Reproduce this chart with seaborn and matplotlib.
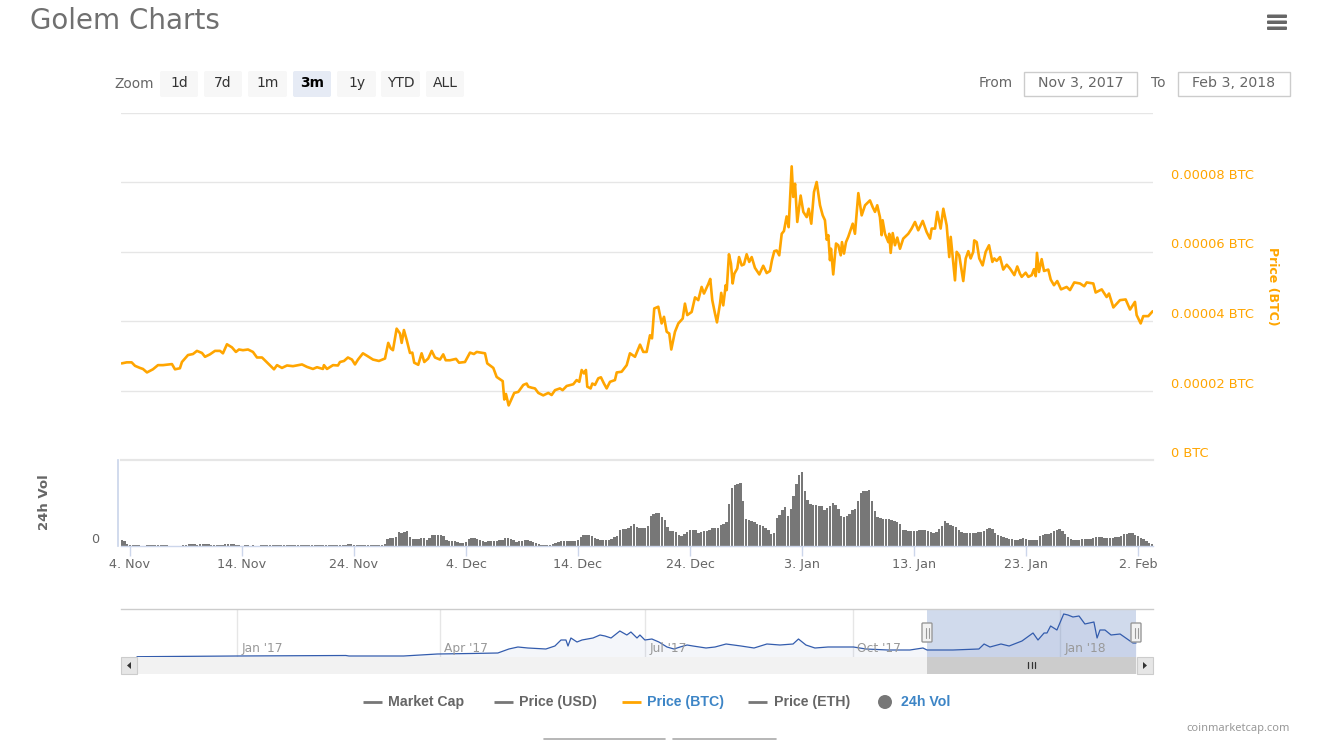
import numpy as np
import matplotlib.pyplot as plt
from matplotlib.patches import Rectangle, FancyBboxPatch, Circle, Polygon
import seaborn as sns

sns.set_theme(style="white")
plt.rcParams["font.family"] = ["DejaVu Sans"]

# price in 1e-5 BTC, x is days since 4 Nov 2017
price_day = [
    -0.74, -0.29, 0.15, 0.45, 0.89, 1.16, 1.52, 2.05, 2.5, 2.95, 3.75, 4.02, 4.46, 4.64, 5.18, 5.63, 5.98, 6.43, 6.7, 7.14,
    7.59, 8.04, 8.3, 8.66, 9.11, 9.46, 9.73, 10.09, 10.54, 10.98, 11.34, 11.79, 12.32, 12.86, 13.13, 13.57, 14.02, 14.55, 15.36, 15.8,
    16.34, 16.7, 17.23, 17.32, 17.59, 18.13, 18.57, 18.75, 19.11, 19.46, 19.82, 20.09, 20.36, 20.8, 21.16, 21.7, 22.23, 22.77, 23.06, 23.28,
    23.48, 23.81, 24.11, 24.26, 24.46, 24.71, 25.0, 25.21, 25.38, 25.74, 26.04, 26.28, 26.63, 26.94, 27.23, 27.68, 27.97, 28.19, 28.57, 29.11,
    29.38, 29.91, 30.36, 30.71, 30.96, 31.7, 31.9, 32.44, 32.74, 33.28, 33.42, 33.57, 33.81, 34.02, 34.31, 34.67, 35.12, 35.42, 35.56, 35.87,
    36.16, 36.46, 36.9, 37.35, 37.65, 37.95, 38.39, 38.63, 38.99, 39.58, 39.88, 40.12, 40.33, 40.54, 40.71, 40.83, 41.13, 41.28, 41.52, 41.81,
    42.05, 42.32, 42.56, 42.86, 43.3, 43.46, 43.9, 44.35, 44.64, 45.09, 45.54, 45.83, 46.13, 46.43, 46.61, 46.81, 47.17, 47.47, 47.68, 47.92,
    48.15, 48.33, 48.66, 48.96, 49.35, 49.55, 49.76, 50.15, 50.45, 50.74, 51.04, 51.25, 51.63, 51.81, 51.99, 52.23, 52.41, 52.68, 52.79, 52.97,
    53.19, 53.28, 53.48, 53.66, 53.81, 53.96, 54.22, 54.38, 54.62, 54.82, 55.06, 55.29, 55.51, 55.8, 56.19, 56.54, 56.85, 57.14, 57.32, 57.53,
    57.74, 57.97, 58.19, 58.39, 58.63, 58.81, 59.08, 59.22, 59.38, 59.58, 59.88, 60.12, 60.42, 60.6, 60.83, 61.07, 61.31, 61.61, 61.85, 62.05,
    62.21, 62.35, 62.5, 62.59, 62.79, 63.04, 63.24, 63.46, 63.57, 63.75, 63.93, 64.13, 64.53, 64.73, 65.03, 65.33, 65.63, 66.07, 66.31, 66.52,
    66.72, 66.96, 67.11, 67.2, 67.41, 67.71, 67.79, 67.92, 68.1, 68.3, 68.51, 68.75, 69.04, 69.49, 69.79, 70.09, 70.38, 70.78, 71.13, 71.43,
    71.58, 71.88, 72.08, 72.38, 72.62, 72.92, 73.15, 73.28, 73.66, 73.81, 74.04, 74.4, 74.62, 74.85, 75.06, 75.29, 75.38, 75.6, 75.83, 76.13,
    76.4, 76.7, 77.0, 77.17, 77.38, 77.68, 77.97, 78.28, 78.57, 78.96, 79.22, 79.46, 79.62, 79.97, 80.21, 80.51, 80.71, 80.87, 80.98, 81.16,
    81.4, 81.61, 81.99, 82.21, 82.5, 82.79, 83.13, 83.63, 83.93, 84.31, 84.82, 85.2, 85.42, 86.01, 86.22, 86.76, 87.2, 87.41, 87.8, 88.39,
    88.9, 89.29, 89.73, 89.88, 90.24, 90.47, 90.92, 91.31,
]
price_btc = [
    2.78, 2.81, 2.81, 2.71, 2.65, 2.62, 2.52, 2.61, 2.73, 2.73, 2.76, 2.61, 2.64, 2.82, 3.02, 3.05, 3.14, 3.08, 2.97, 3.04,
    3.14, 3.14, 3.07, 3.33, 3.24, 3.11, 3.18, 3.16, 3.18, 3.11, 2.95, 2.95, 2.78, 2.61, 2.73, 2.65, 2.72, 2.70, 2.75, 2.68,
    2.62, 2.67, 2.62, 2.73, 2.62, 2.73, 2.72, 2.82, 2.85, 2.95, 2.89, 2.75, 2.89, 3.07, 3.0, 2.89, 2.85, 2.92, 3.37, 3.21,
    3.16, 3.78, 3.64, 3.37, 3.74, 3.45, 3.08, 3.09, 2.80, 2.74, 3.07, 2.82, 2.92, 3.14, 2.95, 2.89, 3.04, 2.87, 2.87, 2.91,
    2.80, 2.82, 3.09, 3.05, 3.11, 3.07, 2.78, 2.65, 2.39, 2.27, 1.74, 1.90, 1.57, 1.72, 1.93, 1.96, 2.16, 2.20, 2.11, 2.08,
    2.06, 1.93, 1.86, 1.93, 1.87, 2.01, 2.06, 2.01, 2.13, 2.18, 2.30, 2.25, 2.59, 2.49, 2.59, 2.11, 2.06, 2.20, 2.16, 2.35,
    2.38, 2.20, 2.06, 2.25, 2.30, 2.52, 2.54, 2.73, 3.07, 2.97, 3.32, 3.11, 3.11, 3.59, 3.50, 4.36, 4.41, 3.93, 4.12, 3.69,
    3.64, 3.18, 3.69, 3.93, 4.07, 4.50, 4.17, 4.26, 4.68, 4.60, 4.98, 4.79, 5.06, 5.21, 4.60, 4.22, 3.96, 4.50, 4.81, 4.45,
    5.03, 4.89, 5.92, 5.65, 5.08, 5.36, 5.51, 5.84, 5.60, 5.63, 5.92, 5.70, 5.84, 5.53, 5.34, 5.59, 5.38, 5.44, 5.75, 6.01,
    6.03, 5.89, 6.51, 6.59, 7.01, 6.70, 8.45, 7.57, 7.95, 6.85, 7.61, 7.14, 6.99, 7.23, 6.80, 7.71, 8.00, 7.33, 7.04, 6.90,
    6.34, 6.47, 5.75, 6.08, 5.34, 6.23, 6.18, 5.89, 6.27, 5.94, 6.27, 6.42, 6.80, 6.51, 7.68, 7.04, 7.33, 7.47, 7.28, 7.14,
    7.33, 6.99, 6.47, 6.90, 6.51, 6.27, 6.51, 5.96, 6.53, 6.18, 6.40, 6.08, 6.37, 6.51, 6.66, 6.85, 6.61, 6.88, 6.56, 6.37,
    6.66, 6.66, 7.14, 6.66, 7.23, 6.75, 5.84, 6.42, 5.17, 5.99, 5.89, 5.15, 5.80, 6.01, 5.80, 5.99, 6.32, 6.27, 5.80, 5.60,
    5.99, 6.18, 5.70, 5.80, 5.73, 5.84, 5.48, 5.62, 5.51, 5.32, 5.57, 5.36, 5.27, 5.39, 5.27, 5.32, 5.49, 5.29, 5.96, 5.41,
    5.78, 5.44, 5.48, 5.19, 5.03, 5.15, 4.91, 4.98, 4.89, 5.11, 5.08, 5.00, 5.11, 5.08, 4.82, 4.91, 4.69, 4.79, 4.39, 4.60,
    4.62, 4.33, 4.55, 4.17, 3.93, 4.14, 4.14, 4.28,
]

# 24h volume, one value per 6 hours from 3 Nov 06:00, rough units
vol_24h = [
    6, 5, 2,
    1, 1, 1, 1,  0, 0, 1, 1,  1, 1, 1, 1,  1, 1, 0, 0,  0, 0, 0, 1,  1, 2, 2, 2,  1, 2, 2, 2,
    2, 1, 1, 1,  1, 1, 2, 2,  2, 2, 1, 1,  0, 1, 1, 0,  1, 0, 0, 1,  1, 1, 1, 1,  1, 1, 1, 1,
    1, 1, 1, 1,  1, 1, 1, 1,  1, 1, 1, 1,  1, 1, 1, 1,  1, 1, 1, 1,  1, 1, 2, 2,  1, 1, 1, 1,
    1, 1, 1, 1,  1, 1, 1, 2,  7, 8, 8, 9,  14, 13, 14, 15,  9, 7, 7, 7,  8, 8, 6, 8,
    11, 11, 11, 11,  10, 6, 5, 5,  5, 4, 3, 3,  4, 7, 8, 8,  7, 6, 5, 4,  5, 5, 5, 5,
    6, 6, 8, 8,  7, 6, 4, 5,  5, 6, 6, 5,  4, 3, 2, 1,  1, 1, 1, 2,  3, 4, 5, 5,  5, 5, 5, 5,
    6, 9, 11, 11,  11, 10, 8, 7,  6, 6, 6, 6,  7, 9, 10, 16,  17, 17, 18, 20,  22, 19, 18, 18,
    18, 20, 30, 32,  33, 33, 29, 26,  19, 15, 15, 14,  11, 10, 12, 14,  16, 16, 16, 13,
    14, 15, 15, 16,  18, 18, 18, 21,  22, 24, 42, 58,  61, 62, 63, 45,  27, 26, 25, 24,
    22, 21, 20, 18,  16, 12, 13, 28,  31, 36, 39, 30,  37, 50, 62, 71,  74, 55, 46, 42,
    41, 41, 40, 40,  36, 38, 40, 43,  41, 37, 30, 29,  30, 32, 36, 37,  45, 53, 55, 55,
    56, 45, 35, 29,  28, 27, 27, 27,  26, 25, 24, 22,  16, 16, 15, 15,  15, 15, 16, 16,
    16, 15, 14, 13,  14, 17, 20, 25,  23, 21, 20, 19,  16, 14, 13, 13,  13, 13, 13, 14,
    14, 15, 17, 18,  17, 13, 11, 10,  9, 8, 7, 7,  6, 6, 7, 8,  7, 6, 6, 6,  6, 10, 11, 12,
    12, 13, 15, 16,  17, 15, 12, 9,  7, 6, 6, 6,  7, 7, 7, 7,  8, 9, 9, 9,  8, 8, 8, 8,
    9, 9, 10, 12,  12, 13, 13, 11,  10, 8, 7, 5,  3, 2,
]

# navigator series, x is days since 1 Jan 2017
nav_day = [
    -44.3, 0, 48.3, 49.7, 73.9, 88.9, 103.8, 115.7, 120.6, 124.6, 129, 137, 141, 143.7, 145.9, 146.8, 148.1, 150.8, 153, 157.9,
    161, 163.2, 165.9, 169.8, 172.9, 174.7, 177.4, 178.7, 180.9, 184, 187.1, 190.7, 193.8, 196.5, 199.6, 202.2, 208, 212, 216.9, 223.5,
    229.3, 235, 240.8, 246.6, 249, 252.3, 256.3, 262.1, 273.4, 278.9, 288.7, 298.4, 304.2, 306, 317.5, 329, 331.3, 333.9, 338.8, 342.4,
    348.1, 353, 355.2, 357.9, 359.2, 360.8, 363.6, 366.6, 368.5, 370.7, 373.4, 376, 380, 381.4, 382.7, 384.9, 387.6, 391.6, 397.3, 398.7,
]
nav_val = [
    0.3, 1, 1.5, 1, 1, 3, 3.5, 4, 8, 10, 9, 8, 11, 17, 17, 11, 19, 15, 17, 19,
    22, 21, 19, 26, 22, 25, 19, 22, 17, 18, 15, 10, 8, 10, 12, 11, 9, 10, 13, 11,
    9, 13, 12, 13, 18, 12, 9, 10, 10, 8, 7, 7, 9, 7, 7, 8, 13, 10, 13, 11,
    16, 24, 17, 24, 24, 31, 27, 43, 42, 40, 41, 33, 35, 19, 27, 27, 22, 23, 14, 14,
]

date_ticks = [0, 10, 20, 30, 40, 50, 60, 70, 80, 90]
date_labels = ["4. Nov", "14. Nov", "24. Nov", "4. Dec", "14. Dec", "24. Dec", "3. Jan", "13. Jan", "23. Jan", "2. Feb"]
price_ticks = [0, 2, 4, 6, 8, 10]
price_labels = ["0 BTC", "0.00002 BTC", "0.00004 BTC", "0.00006 BTC", "0.00008 BTC", ""]
nav_ticks = [0, 90, 181, 273, 365]
nav_labels = ["Jan '17", "Apr '17", "Jul '17", "Oct '17", "Jan '18"]
nav_selected = [306, 398.7]

W, H = 1329, 740
GREY = "#666666"
ORANGE = "#ffa500"
BLUE = "#3d85c6"
AXIS = "#ccd6eb"


def px_axes(x0, y0, x1, y1):
    return fig.add_axes([x0 / W, 1 - y1 / H, (x1 - x0) / W, (y1 - y0) / H])


fig = plt.figure(figsize=(W / 100, H / 100), dpi=100, facecolor="white")

# price panel
ax = px_axes(121, 112.5, 1153, 460)
sns.lineplot(x=price_day, y=price_btc, ax=ax, color=ORANGE, linewidth=1.9, sort=False, estimator=None)
ax.set_xlim(-0.80, 91.34)
ax.set_ylim(0, 10)
ax.set_xticks([])
ax.yaxis.tick_right()
ax.set_yticks(price_ticks)
ax.set_yticklabels(price_labels, color=ORANGE, fontsize=9.4, va="bottom")
ax.tick_params(axis="y", length=0, pad=13)
ax.grid(axis="y", color="#e6e6e6", linewidth=1)
ax.set_axisbelow(True)
sns.despine(ax=ax, left=True, right=True, top=True, bottom=True)
ax.set_xlabel("")
ax.set_ylabel("")

# volume panel
ax2 = px_axes(121, 460, 1153, 546)
vol_day = np.arange(len(vol_24h)) * 0.25 - 0.75
sns.barplot(x=vol_day, y=vol_24h, ax=ax2, native_scale=True, color="#777777", saturation=1,
            width=0.9, errorbar=None, linewidth=0)
ax2.spines["left"].set_position(("outward", 2))
ax2.set_xlim(-0.80, 91.34)
ax2.set_ylim(0, 86)
ax2.set_xticks(date_ticks)
ax2.set_xticklabels(date_labels, color=GREY, fontsize=9.2)
ax2.tick_params(axis="x", length=7.5, width=1, color=AXIS, pad=1, bottom=True)
ax2.set_yticks([0])
ax2.set_yticklabels(["0"], color=GREY, fontsize=9.2, va="bottom")
ax2.tick_params(axis="y", length=0, pad=14)
ax2.spines["top"].set_color("#e6e6e6")
ax2.spines["top"].set_linewidth(1.6)
ax2.spines["bottom"].set_color(AXIS)
ax2.spines["bottom"].set_linewidth(1)
ax2.spines["left"].set_color(AXIS)
ax2.spines["right"].set_visible(False)
ax2.set_xlabel("")
ax2.set_ylabel("")

# navigator
ax3 = px_axes(121, 609, 1153, 657)
ax3.fill_between(nav_day, nav_val, 0, color="#335cad", alpha=0.05, linewidth=0)
sns.lineplot(x=nav_day, y=nav_val, ax=ax3, color="#335cad", linewidth=0.9, sort=False, estimator=None)
ax3.axvspan(nav_selected[0], nav_selected[1], color="#6685c2", alpha=0.3, linewidth=0)
ax3.set_xlim(-51.4, 406.2)
ax3.set_ylim(0, 48)
ax3.set_xticks(nav_ticks)
ax3.set_xticklabels([])
ax3.set_yticks([])
ax3.tick_params(axis="x", length=0)
ax3.grid(axis="x", color="#e6e6e6", linewidth=1)
ax3.set_axisbelow(True)
for t, lab in zip(nav_ticks, nav_labels):
    ax3.annotate(lab, (t, 0), xytext=(3, 1.5), textcoords="offset points", color="#999999", fontsize=8.8, va="bottom")
for s in ["left", "right", "bottom"]:
    ax3.spines[s].set_visible(False)
ax3.spines["top"].set_color("#cccccc")
ax3.spines["top"].set_linewidth(1)
ax3.set_xlabel("")
ax3.set_ylabel("")

# everything around the plots, drawn in pixel coordinates
ui = fig.add_axes([0, 0, 1, 1], facecolor="none")
ui.set_xlim(0, W)
ui.set_ylim(H, 0)
ui.axis("off")


def button(x0, x1, label, fc="#f7f7f7", weight="normal", color="#333333"):
    ui.add_patch(FancyBboxPatch((x0 + 2, 73), x1 - x0 - 4, 22, boxstyle="round,pad=2", fc=fc, ec="none"))
    ui.text((x0 + x1) / 2, 83, label, ha="center", va="center", fontsize=10, color=color, weight=weight)


ui.text(30, 21, "Golem Charts", fontsize=20, color="#707070", va="center")
ui.text(114, 84, "Zoom", fontsize=9.9, color=GREY, va="center")
button(160, 198, "1d")
button(204, 242, "7d")
button(248, 287, "1m")
button(293, 331, "3m", fc="#e6ebf5", weight="bold", color="black")
button(337, 376, "1y")
button(381, 420, "YTD")
button(426, 464, "ALL")

ui.text(979, 83, "From", fontsize=9.9, color=GREY, va="center")
ui.text(1151, 83, "To", fontsize=9.9, color=GREY, va="center")
for x0, x1, lab in [(1024, 1137, "Nov 3, 2017"), (1178, 1290, "Feb 3, 2018")]:
    ui.add_patch(Rectangle((x0, 72), x1 - x0, 24, fc="white", ec="#cccccc", lw=1))
    ui.text((x0 + x1) / 2, 83, lab, ha="center", va="center", fontsize=10.2, color=GREY)

# menu icon
for y in [15.5, 21.5, 27.5]:
    ui.add_patch(FancyBboxPatch((1268, y), 18, 1.5, boxstyle="round,pad=1", fc=GREY, ec="none"))

ui.text(44, 502, "24h Vol", rotation=90, ha="center", va="center", fontsize=9.5, color=GREY, weight="bold")
ui.text(1273, 286, "Price (BTC)", rotation=270, ha="center", va="center", fontsize=9, color=ORANGE, weight="bold")

# scrollbar
ui.add_patch(Rectangle((121, 657), 1032, 17, fc="#f2f2f2", ec="none"))
ui.add_patch(Rectangle((927, 657), 209, 17, fc="#cccccc", ec="none"))
for x0 in [121, 1137]:
    ui.add_patch(Rectangle((x0, 657), 16, 17, fc="#e6e6e6", ec="#cccccc", lw=0.8))
ui.add_patch(Polygon([(131, 662), (131, 669), (127, 665.5)], fc="#333333", ec="none"))
ui.add_patch(Polygon([(1143, 662), (1143, 669), (1147, 665.5)], fc="#333333", ec="none"))
for x in [1028, 1031.5, 1035]:
    ui.plot([x, x], [662, 668], color="#333333", lw=0.9)

# navigator handles
for x in [927, 1136]:
    ui.add_patch(FancyBboxPatch((x - 4, 624), 8, 17, boxstyle="round,pad=1", fc="#f2f2f2", ec="#999999", lw=1))
    for dx in [-1.5, 1.5]:
        ui.plot([x + dx, x + dx], [628, 638], color="#999999", lw=0.8)

# legend
for x0, x1, c in [(363, 382, "#777777"), (494, 513, "#777777"), (622, 641, ORANGE), (748, 767, "#777777")]:
    ui.plot([x0, x1], [702, 702], color=c, lw=2, solid_capstyle="butt")
ui.add_patch(Circle((885, 702), 7, fc="#777777", ec="none"))
for x, lab, c in [(388, "Market Cap", GREY), (519, "Price (USD)", GREY), (647, "Price (BTC)", BLUE),
                  (774, "Price (ETH)", GREY), (901, "24h Vol", BLUE)]:
    ui.text(x, 702, lab, fontsize=10.2, color=c, weight="bold", va="center", family="Liberation Sans")

ui.text(1290, 729, "coinmarketcap.com", ha="right", va="center", fontsize=8, color="#999999", family="Noto Sans")

# tops of the two buttons cut off by the bottom edge
for x0, x1 in [(544, 665), (673, 776)]:
    ui.plot([x0, x1], [739.3, 739.3], color="#aaaaaa", lw=1.2)

fig.savefig("out.png", dpi=100)
plt.close()
